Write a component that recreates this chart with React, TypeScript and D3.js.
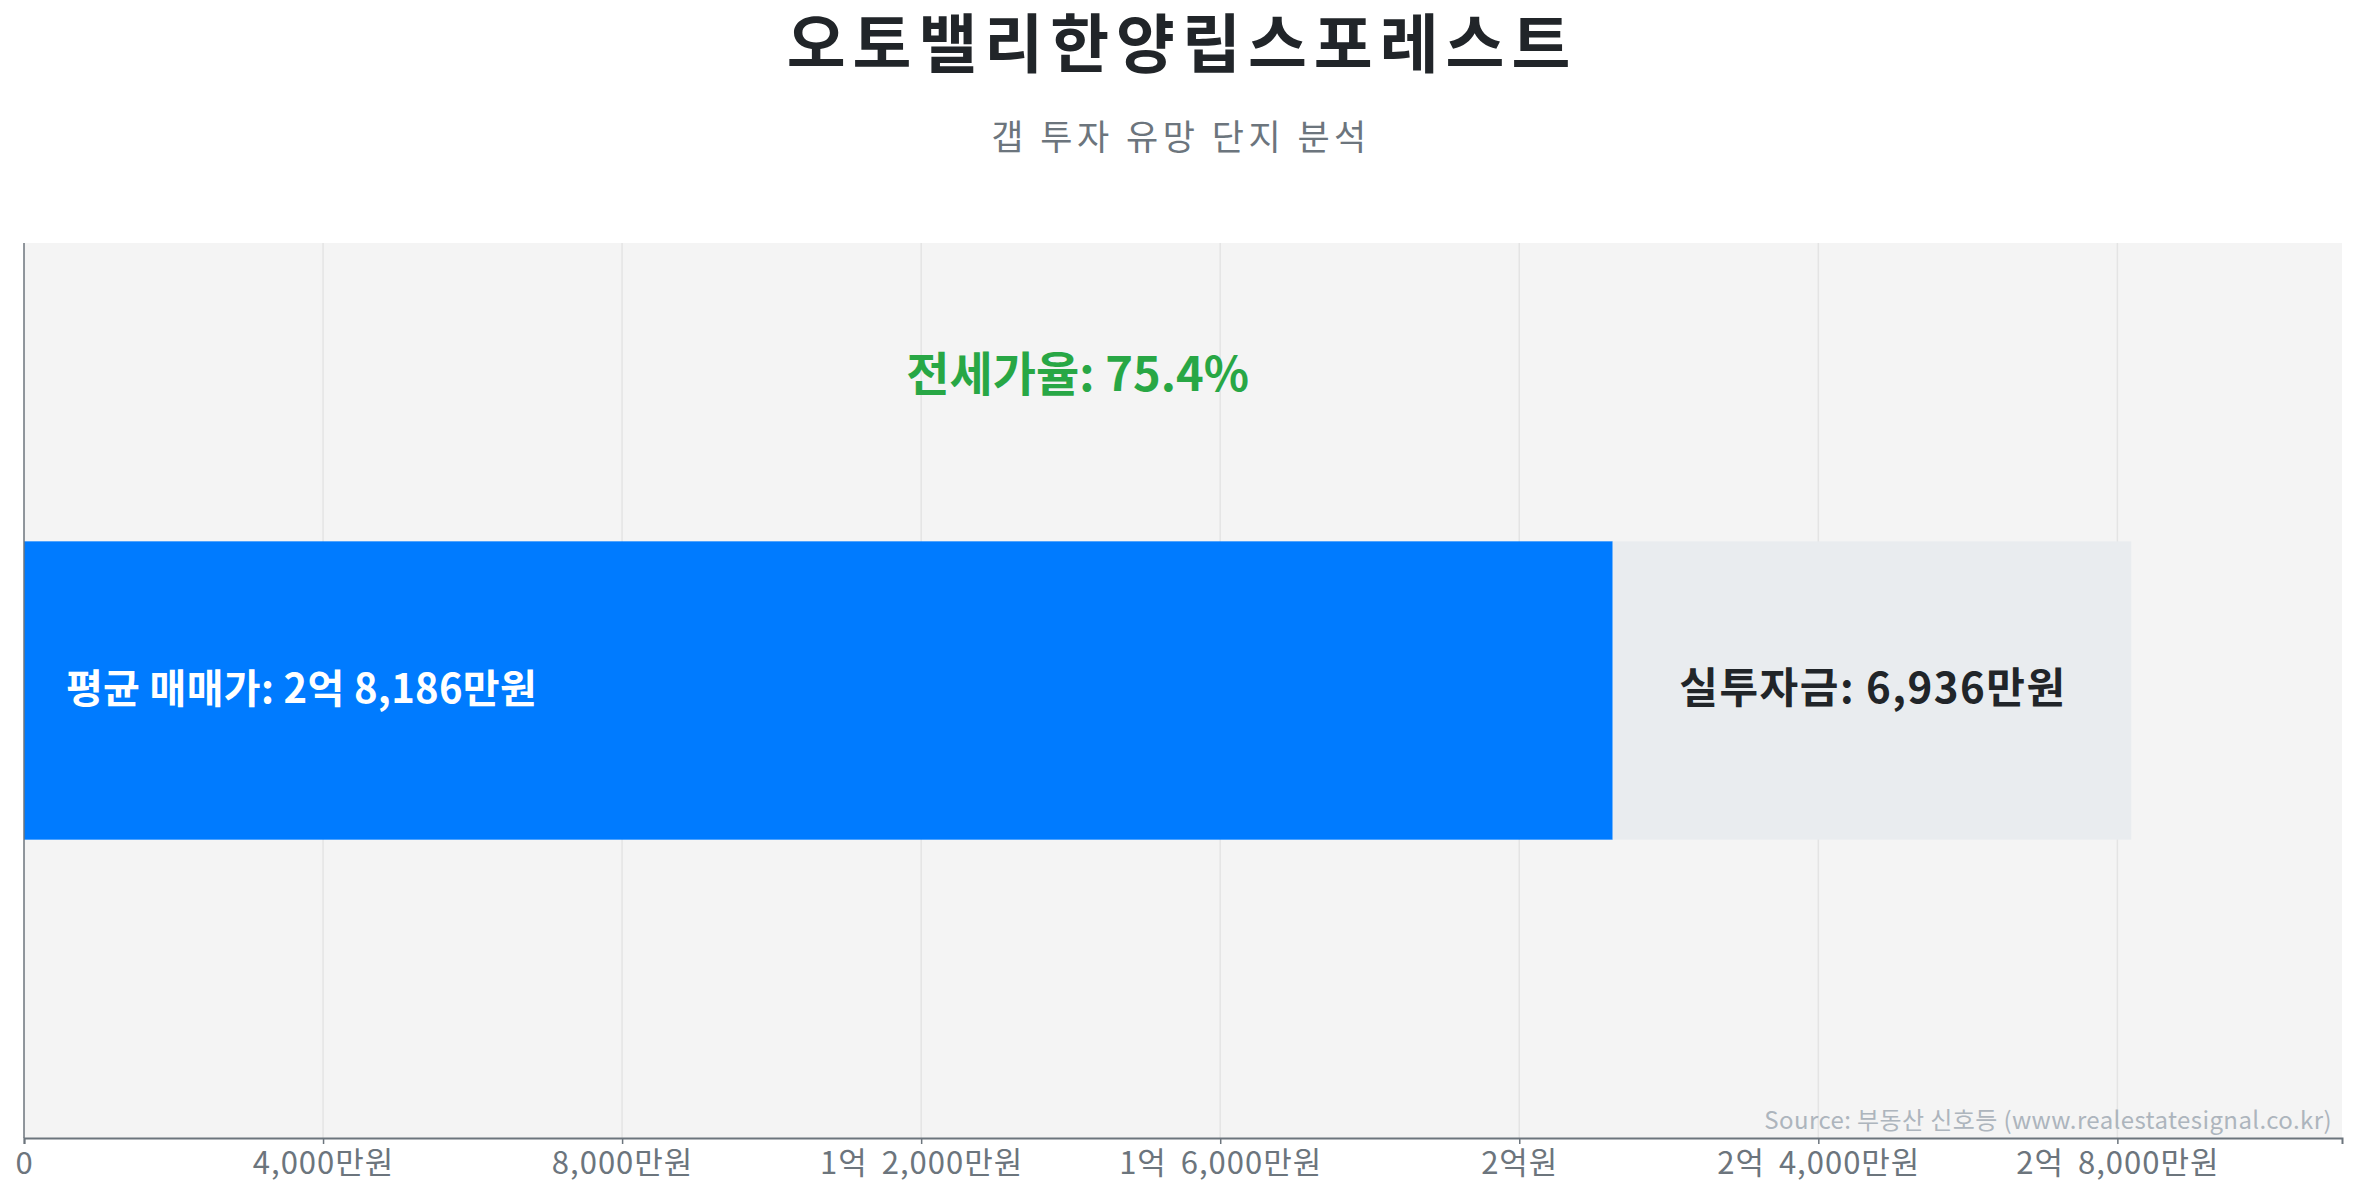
import React, { useEffect, useRef } from "react";
import * as d3 from "d3";

// values in 만원
const categories = ["오토밸리한양립스포레스트"];
const salePrice = [28186];
const jeonsePrice = [21250];
const investment = [6936];
const jeonseRatio = [75.4];
const tickValues = [0, 4000, 8000, 12000, 16000, 20000, 24000, 28000];

const titleText = "오토밸리한양립스포레스트";
const subtitleText = "갭 투자 유망 단지 분석";
const sourceText = "Source: 부동산 신호등 (www.realestatesignal.co.kr)";

const FONT = "'Noto Sans CJK KR', 'Noto Sans', sans-serif";

const formatWon = (v: number) => {
    if (v === 0) return "0";
    const eok = Math.floor(v / 10000);
    const rest = v % 10000;
    if (eok === 0) return `${d3.format(",")(rest)}만원`;
    if (rest === 0) return `${eok}억원`;
    return `${eok}억 ${d3.format(",")(rest)}만원`;
};

export default function App() {
    const svgRef = useRef<SVGSVGElement | null>(null);

    useEffect(() => {
        document.body.style.margin = "0";
        if (!svgRef.current) return;

        const width = 2357;
        const height = 1200;
        const margin = { top: 243, right: 15, bottom: 62, left: 24 };

        const svg = d3.select(svgRef.current);
        svg.selectAll("*").remove();
        svg.attr("width", width).attr("height", height);

        const x = d3.scaleLinear()
            .domain([0, d3.max(salePrice)! * 1.1])
            .range([margin.left, width - margin.right]);

        const y = d3.scaleBand()
            .domain(categories)
            .range([margin.top, height - margin.bottom])
            .padding(0.5);

        // titles (letter-spacing leaves a trailing gap, so nudge x by half of it)
        svg.append("text")
            .attr("x", width / 2 + 3.5)
            .attr("y", 67)
            .attr("text-anchor", "middle")
            .attr("fill", "#212529")
            .style("font-family", FONT)
            .style("font-weight", "700")
            .style("font-size", "64px")
            .style("letter-spacing", "7px")
            .text(titleText);

        svg.append("text")
            .attr("x", width / 2 + 2.5)
            .attr("y", 150)
            .attr("text-anchor", "middle")
            .attr("fill", "#6c757d")
            .style("font-family", FONT)
            .style("font-size", "35px")
            .style("letter-spacing", "4.5px")
            .text(subtitleText);

        // plot background
        svg.append("rect")
            .attr("x", margin.left)
            .attr("y", margin.top)
            .attr("width", width - margin.left - margin.right)
            .attr("height", height - margin.top - margin.bottom)
            .attr("fill", "#f4f4f4");

        // grid
        svg.append("g")
            .selectAll("line")
            .data(tickValues.slice(1))
            .join("line")
            .attr("x1", d => x(d))
            .attr("x2", d => x(d))
            .attr("y1", margin.top)
            .attr("y2", height - margin.bottom)
            .attr("stroke", "#e4e4e4")
            .attr("stroke-width", 1.5);

        const bars = svg.append("g");
        categories.forEach((cat, i) => {
            const y0 = y(cat) || 0;
            const bw = y.bandwidth();

            bars.append("rect")
                .attr("x", x(0))
                .attr("y", y0)
                .attr("width", x(jeonsePrice[i]) - x(0))
                .attr("height", bw)
                .attr("fill", "#007bff");

            bars.append("rect")
                .attr("x", x(jeonsePrice[i]))
                .attr("y", y0)
                .attr("width", x(jeonsePrice[i] + investment[i]) - x(jeonsePrice[i]))
                .attr("height", bw)
                .attr("fill", "#e9ecef");

            bars.append("text")
                .attr("x", x(0) + 42)
                .attr("y", y0 + bw / 2)
                .attr("dy", "0.3em")
                .attr("fill", "#ffffff")
                .style("font-family", FONT)
                .style("font-weight", "700")
                .style("font-size", "40px")
                .style("letter-spacing", "0.3px")
                .text(`평균 매매가: ${formatWon(salePrice[i])}`);

            bars.append("text")
                .attr("x", (x(jeonsePrice[i]) + x(jeonsePrice[i] + investment[i])) / 2 + 1)
                .attr("y", y0 + bw / 2)
                .attr("dy", "0.3em")
                .attr("text-anchor", "middle")
                .attr("fill", "#212529")
                .style("font-family", FONT)
                .style("font-weight", "700")
                .style("font-size", "42px")
                .style("letter-spacing", "1.5px")
                .text(`실투자금: ${formatWon(investment[i])}`);

            bars.append("text")
                .attr("x", x(salePrice[i] / 2))
                .attr("y", y0 - bw * 0.56)
                .attr("dy", "0.35em")
                .attr("text-anchor", "middle")
                .attr("fill", "#28a745")
                .style("font-family", FONT)
                .style("font-weight", "700")
                .style("font-size", "47px")
                .text(`전세가율: ${jeonseRatio[i]}%`);
        });

        // axes
        const xAxis = svg.append("g")
            .attr("transform", `translate(0,${height - margin.bottom})`)
            .call(d3.axisBottom(x).tickValues(tickValues).tickFormat(d => formatWon(+d)).tickSizeOuter(0).tickSize(6));
        xAxis.select(".domain").attr("stroke", "#6c757d").attr("stroke-width", 2);
        xAxis.selectAll(".tick line").attr("stroke", "#6c757d").attr("stroke-width", 1.5);
        xAxis.selectAll(".tick text")
            .attr("fill", "#6c757d")
            .attr("y", 14)
            .style("font-family", FONT)
            .style("font-size", "31px")
            .style("letter-spacing", "1px")
            .style("word-spacing", "6px");

        svg.append("line")
            .attr("x1", margin.left)
            .attr("x2", margin.left)
            .attr("y1", margin.top)
            .attr("y2", height - margin.bottom)
            .attr("stroke", "#6c757d")
            .attr("stroke-width", 1.5);

        svg.append("text")
            .attr("x", width - 25)
            .attr("y", height - margin.bottom - 9)
            .attr("text-anchor", "end")
            .attr("fill", "#adb5bd")
            .style("font-family", FONT)
            .style("font-size", "24px")
            .style("letter-spacing", "0.4px")
            .text(sourceText);
    }, []);

    return (
        <div style={{ position: "absolute", left: 0, top: 0 }}>
            <svg ref={svgRef} />
        </div>
    );
}
